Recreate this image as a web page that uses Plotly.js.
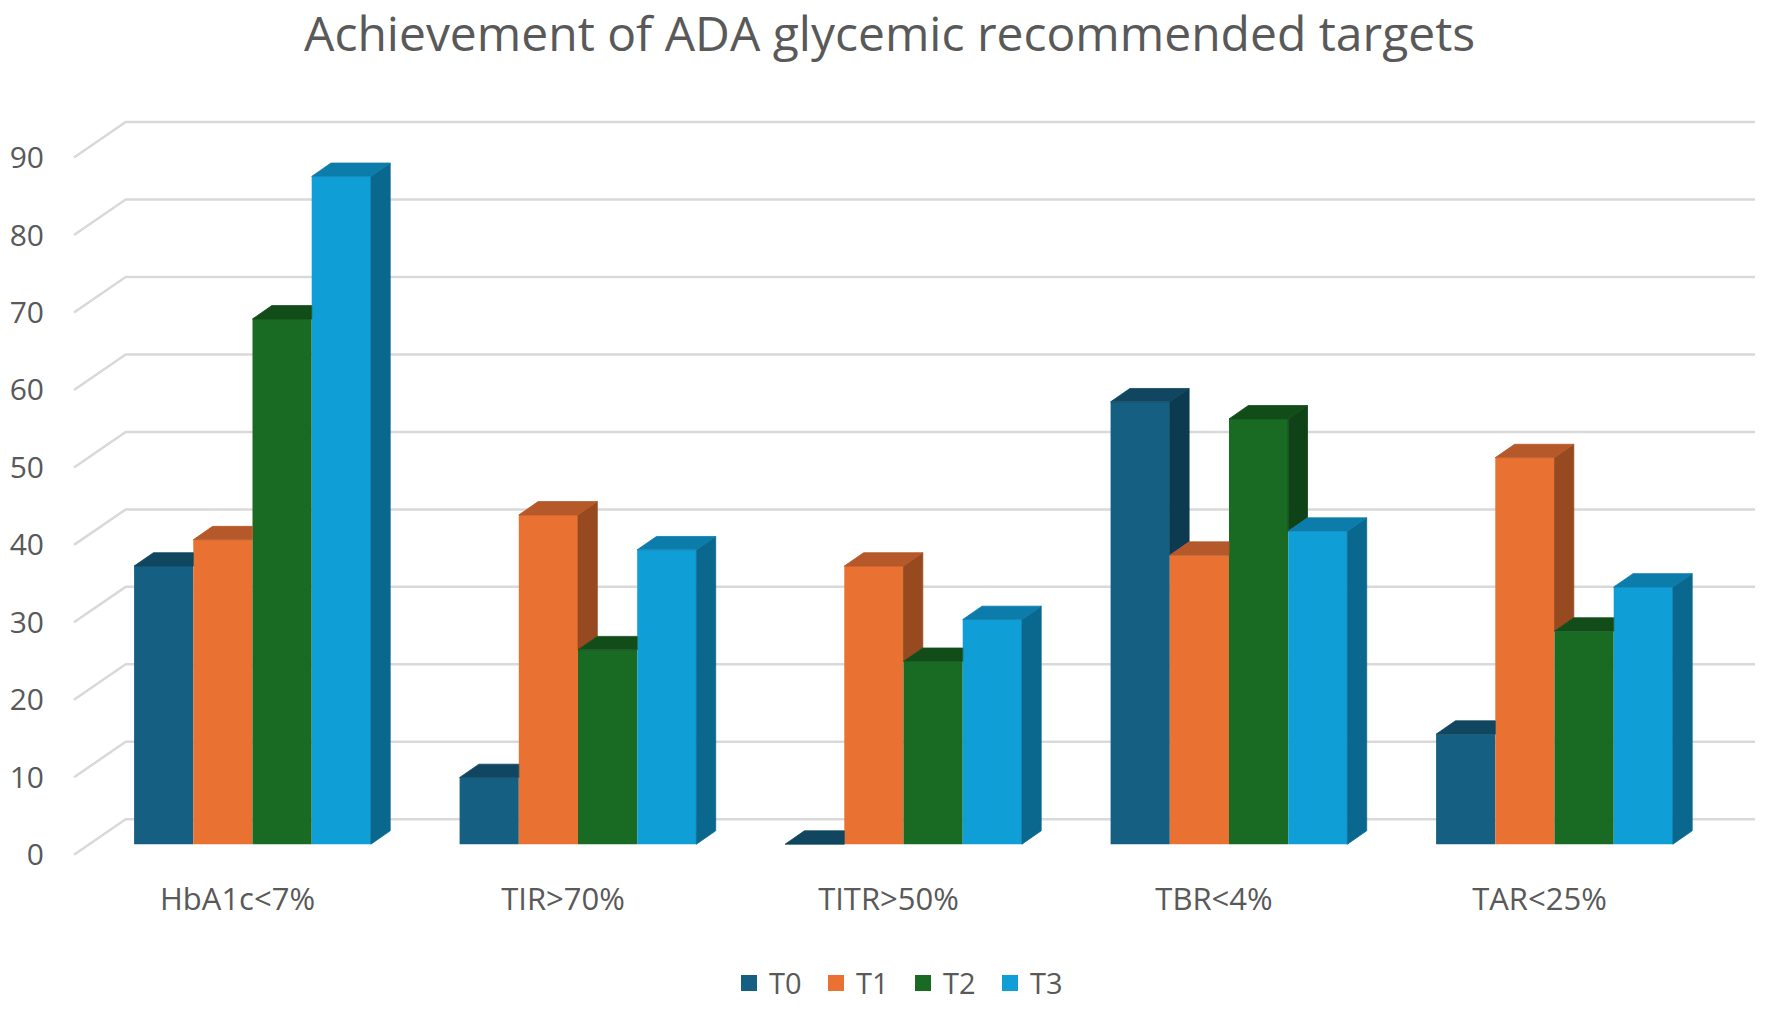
<!DOCTYPE html>
<html>
<head>
<meta charset="utf-8">
<script src="https://cdn.plot.ly/plotly-3.0.1.min.js"></script>
<style>html,body{margin:0;padding:0;background:#fff;}#chart{width:1772px;height:1009px;}</style>
</head>
<body>
<div id="chart"></div>
<script>
// ---- data ----
const categories = ['HbA1c<7%', 'TIR>70%', 'TITR>50%', 'TBR<4%', 'TAR<25%'];
const seriesNames = ['T0', 'T1', 'T2', 'T3'];
const t0 = [35.9, 8.6, 0, 57.1, 14.2];
const t1 = [39.3, 42.5, 35.9, 37.3, 49.9];
const t2 = [67.8, 25.1, 23.6, 54.9, 27.5];
const t3 = [86.2, 38.0, 29.0, 40.4, 33.2];
const yTicks = [0, 10, 20, 30, 40, 50, 60, 70, 80, 90];
const titleText = 'Achievement of ADA glycemic recommended targets';

// ---- styling / geometry ----
const frontColors = ['#156082', '#E97132', '#196B24', '#0F9ED5'];
const topColors   = ['#10465F', '#B5582A', '#124D19', '#0C7CAA'];
const sideColors  = ['#0C3A50', '#974A1F', '#0F4216', '#0A688F'];
const textColor = '#595959';
const gridColor = '#D9D9D9';
const FONT = 'Open Sans, Noto Sans, sans-serif';

const W = 1772, H = 1009;
const P = 325.5;          // px per category
const cat0px = 252.5;     // px of first category centre (front)
const Q = 7.77;           // px per value unit
const basePx = 846.7;     // px (from top) of value 0 on front plane
const xmin = -cat0px / P, xmax = xmin + W / P;
const ymin = -(H - basePx) / Q, ymax = ymin + H / Q;
const px2x = p => xmin + p / P;

const barW = 59.2 / P;
const dX = 19.3 / P, dY = 13.4 / Q;
const floorShift = 10.6 / Q, backShift = 25 / Q;
const labelShift = 15 / P;

const series = [t0, t1, t2, t3];
const idx = categories.map((c, i) => i);

const traces = [];

// back-wall gridlines (main subplot, below everything)
const gx = [], gy = [];
yTicks.forEach(v => {
  gx.push(px2x(74), px2x(125.7), px2x(1755), null);
  gy.push(v - floorShift, v + backShift, v + backShift, null);
});
traces.push({type: 'scatter', mode: 'lines', x: gx, y: gy, xaxis: 'x', yaxis: 'y',
  line: {color: gridColor, width: 2.5}, hoverinfo: 'skip', showlegend: false});

// front faces as bars (overlay subplot)
series.forEach((vals, j) => {
  traces.push({type: 'bar', x: idx, y: vals, name: seriesNames[j], xaxis: 'x', yaxis: 'y2',
    width: barW, offset: -2 * barW + j * barW,
    marker: {color: frontColors[j], line: {width: 0}}, showlegend: false, hoverinfo: 'skip'});
});

// 3D side and top faces
function poly(pts, color) {
  const xs = pts.map(p => p[0]); const ys = pts.map(p => p[1]);
  xs.push(xs[0]); ys.push(ys[0]);
  traces.push({type: 'scatter', mode: 'lines', x: xs, y: ys, xaxis: 'x', yaxis: 'y2',
    fill: 'toself', fillcolor: color, line: {color: color, width: 0.8},
    hoverinfo: 'skip', showlegend: false});
}
idx.forEach(i => {
  series.forEach((vals, j) => {
    const v = vals[i];
    const xl = i - 2 * barW + j * barW, xr = xl + barW;
    const last = j === series.length - 1;
    const vn = last ? -Infinity : series[j + 1][i];
    // side face
    if (last) {
      poly([[xr, 0], [xr, v], [xr + dX, v + dY], [xr + dX, dY]], sideColors[j]);
    } else if (v > vn) {
      poly([[xr, vn], [xr, v], [xr + dX, v + dY], [xr + dX, vn + dY]], sideColors[j]);
    }
    // top face
    if (last || vn <= v) {
      poly([[xl, v], [xr, v], [xr + dX, v + dY], [xl + dX, v + dY]], topColors[j]);
    } else if (vn >= v + dY) {
      poly([[xl, v], [xr, v], [xr, v + dY], [xl + dX, v + dY]], topColors[j]);
    } else {
      const xc = xr + (v + dY - vn) * dX / dY;
      poly([[xl, v], [xr, v], [xr, vn], [xc, v + dY], [xl + dX, v + dY]], topColors[j]);
    }
  });
});

// legend entries
seriesNames.forEach((n, j) => {
  traces.push({type: 'scatter', mode: 'markers', x: [null], y: [null], xaxis: 'x', yaxis: 'y',
    name: n, marker: {symbol: 'square', size: 20, color: frontColors[j]}, showlegend: true, hoverinfo: 'skip'});
});

const layout = {
  width: W, height: H,
  margin: {l: 0, r: 0, t: 0, b: 0, pad: 0},
  paper_bgcolor: '#ffffff', plot_bgcolor: 'rgba(0,0,0,0)',
  font: {family: FONT, color: textColor, size: 30},
  title: {text: titleText, x: 889.6 / W, xanchor: 'center', y: 1 - 34 / H, yanchor: 'middle',
    font: {family: FONT, size: 48, color: textColor}},
  showlegend: true,
  legend: {orientation: 'h', x: 729 / W, xanchor: 'left', y: (H - 986) / H, yanchor: 'middle',
    font: {family: FONT, size: 29, color: textColor}, entrywidth: 42, entrywidthmode: 'pixels',
    itemsizing: 'trace', bgcolor: 'rgba(0,0,0,0)', traceorder: 'normal'},
  barmode: 'overlay',
  xaxis: {domain: [0, 1], range: [xmin, xmax], anchor: 'free', position: (H - 881) / H,
    tickmode: 'array', tickvals: idx.map(i => i - labelShift), ticktext: categories,
    ticks: '', showgrid: false, zeroline: false, showline: false, automargin: false,
    tickfont: {family: FONT, size: 31, color: textColor}, fixedrange: true},
  yaxis: {domain: [0, 1], range: [ymin, ymax], anchor: 'free', position: 44 / W,
    tickmode: 'array', tickvals: yTicks.map(v => v - floorShift), ticktext: yTicks.map(String),
    ticks: '', showgrid: false, zeroline: false, showline: false, automargin: false,
    tickfont: {family: FONT, size: 30, color: textColor}, fixedrange: true},
  yaxis2: {overlaying: 'y', range: [ymin, ymax], visible: false, showgrid: false, zeroline: false, fixedrange: true}
};

Plotly.newPlot('chart', traces, layout, {displayModeBar: false, staticPlot: true});
</script>
</body>
</html>
